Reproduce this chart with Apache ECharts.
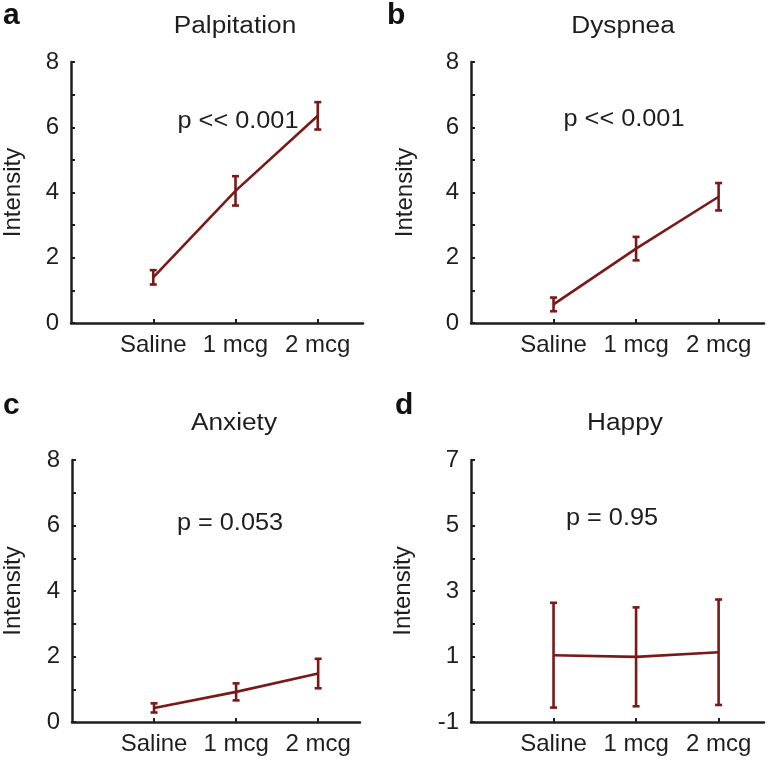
<!DOCTYPE html>
<html>
<head>
<meta charset="utf-8">
<script src="https://cdn.jsdelivr.net/npm/echarts@6/dist/echarts.min.js"></script>
<style>
html,body{margin:0;padding:0;background:#fff;}
#chart{width:768px;height:764px;}
</style>
</head>
<body>
<div id="chart"></div>
<script>
// ---- data ----
const categories = ['Saline', '1 mcg', '2 mcg'];
const catPos = [1, 2, 3];
const panelLetters = ['a', 'b', 'c', 'd'];
const panelTitles = ['Palpitation', 'Dyspnea', 'Anxiety', 'Happy'];
const pTexts = ['p << 0.001', 'p << 0.001', 'p = 0.053', 'p = 0.95'];
const yMins = [0, 0, 0, -1];
const yMaxs = [8, 8, 8, 7];
const palpitationMean = [1.40, 4.05, 6.35];
const palpitationErr = [0.22, 0.45, 0.42];
const dyspneaMean = [0.57, 2.28, 3.87];
const dyspneaErr = [0.21, 0.36, 0.42];
const anxietyMean = [0.43, 0.92, 1.48];
const anxietyErr = [0.14, 0.26, 0.45];
const happyMean = [1.04, 0.99, 1.13];
const happyErr = [1.60, 1.51, 1.61];

const means = [palpitationMean, dyspneaMean, anxietyMean, happyMean];
const errs = [palpitationErr, dyspneaErr, anxietyErr, happyErr];

// ---- layout / style ----
const FONT = '"Liberation Sans", Arial, Helvetica, sans-serif';
const RED = '#7b1818';
const INK = '#1e1e1e';
const grids = [
  {left: 70, top: 62, width: 293, height: 261},
  {left: 471, top: 62, width: 293, height: 261},
  {left: 70, top: 460, width: 290, height: 262},
  {left: 471, top: 460, width: 293, height: 262}
];
const xMaxs = [3.55, 3.55, 3.51, 3.55];
const nameGaps = [46, 54, 47, 56];
const titlePos = [[235, 27], [623, 27], [234, 424], [625, 424]];
const pPos = [[238, 122], [624, 120], [230, 524], [612, 519]];
const letterPos = [[3, 16], [387, 16], [3, 406], [395, 406]];

const xAxes = [], yAxes = [], series = [], graphics = [];
for (let i = 0; i < 4; i++) {
  xAxes.push({
    gridIndex: i, type: 'value', min: 0, max: xMaxs[i],
    axisLine: {show: true, onZero: false, lineStyle: {color: INK, width: 2.5}},
    axisTick: {show: true, inside: true, length: 4, customValues: catPos, lineStyle: {color: INK, width: 2}},
    axisLabel: {show: true, customValues: catPos, formatter: v => categories[Math.round(v) - 1] || '',
      fontSize: 24, fontFamily: FONT, color: INK, margin: 10},
    splitLine: {show: false}
  });
  const mn = yMins[i];
  yAxes.push({
    gridIndex: i, type: 'value', min: mn, max: yMaxs[i], interval: 1,
    name: 'Intensity', nameLocation: 'middle', nameRotate: 90, nameGap: nameGaps[i],
    nameTextStyle: {fontSize: 24, fontFamily: FONT, color: INK},
    axisLine: {show: true, lineStyle: {color: INK, width: 2.5}},
    axisTick: {show: true, inside: true, length: 4, lineStyle: {color: INK, width: 2}},
    axisLabel: {fontSize: 24, fontFamily: FONT, color: INK, margin: 12,
      formatter: v => (Math.round(v - mn) % 2 === 0 ? String(v) : '')},
    splitLine: {show: false}
  });
  series.push({
    type: 'line', xAxisIndex: i, yAxisIndex: i, showSymbol: false, symbol: 'none',
    lineStyle: {color: RED, width: 2.6}, silent: true,
    data: catPos.map((x, k) => [x, means[i][k]])
  });
  series.push({
    type: 'custom', xAxisIndex: i, yAxisIndex: i, clip: false, silent: true,
    data: catPos.map((x, k) => [x, means[i][k], errs[i][k]]),
    encode: {x: 0, y: 1},
    renderItem: (params, api) => {
      const x = api.value(0), m = api.value(1), e = api.value(2);
      const t = api.coord([x, m + e]);
      const b = api.coord([x, m - e]);
      const hw = 3.5;
      const st = {stroke: RED, lineWidth: 2.6};
      return {type: 'group', children: [
        {type: 'line', shape: {x1: t[0], y1: t[1], x2: b[0], y2: b[1]}, style: st},
        {type: 'line', shape: {x1: t[0] - hw, y1: t[1], x2: t[0] + hw, y2: t[1]}, style: st},
        {type: 'line', shape: {x1: b[0] - hw, y1: b[1], x2: b[0] + hw, y2: b[1]}, style: st}
      ]};
    }
  });
  graphics.push({type: 'text', x: titlePos[i][0], y: titlePos[i][1], scaleX: 1.14,
    style: {text: panelTitles[i], font: '23px ' + FONT, fill: INK, textAlign: 'center', textVerticalAlign: 'middle'}});
  graphics.push({type: 'text', x: pPos[i][0], y: pPos[i][1], scaleX: 1.1,
    style: {text: pTexts[i], font: '23px ' + FONT, fill: INK, textAlign: 'center', textVerticalAlign: 'middle'}});
  graphics.push({type: 'text', x: letterPos[i][0], y: letterPos[i][1],
    style: {text: panelLetters[i], font: 'bold 30px ' + FONT, fill: '#111', textAlign: 'left', textVerticalAlign: 'middle'}});
}

const chart = echarts.init(document.getElementById('chart'), null, {renderer: 'canvas'});
chart.setOption({
  animation: false,
  backgroundColor: '#fff',
  grid: grids,
  xAxis: xAxes,
  yAxis: yAxes,
  series: series,
  graphic: graphics
});
</script>
</body>
</html>
